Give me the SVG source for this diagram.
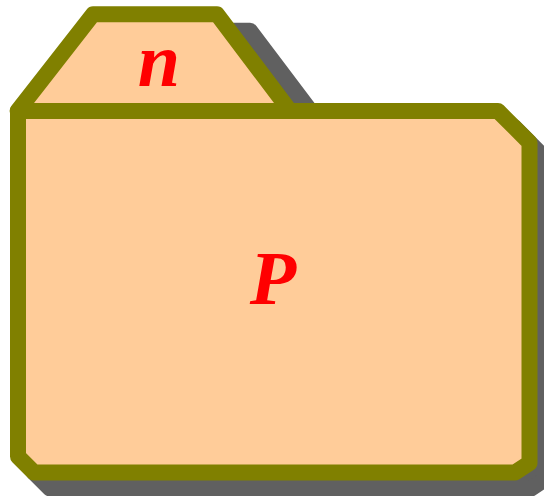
<svg xmlns="http://www.w3.org/2000/svg" width="544" height="496" viewBox="0 0 544 496">
<style>
.outline{fill:#FFCC99;stroke:#808000;stroke-width:16;stroke-linejoin:round}
.shadow{fill:#606060;stroke:#606060;stroke-width:16;stroke-linejoin:round}
.lbl{font-family:"Liberation Serif",serif;font-weight:bold;font-style:italic;font-size:76px;fill:#FF0000;text-anchor:middle}
</style>
<defs>
<path id="tabShape" d="M17.6,111 L93,14.3 L217,14.3 L290,111 Z"/>
<path id="bodyShape" d="M18,111 L498,111 L529.5,142.5 L529.5,463 L515,472.5 L34,472.5 L18,456.5 Z"/>
</defs>
<g id="package">
<use href="#tabShape" class="shadow" transform="translate(33,16.5)"/>
<use href="#bodyShape" class="shadow" transform="translate(16,16)"/>
<use href="#tabShape" class="outline"/>
<use href="#bodyShape" class="outline"/>
<text class="lbl" x="159" y="86">n</text>
<text class="lbl" x="273" y="304">P</text>
</g>
</svg>
